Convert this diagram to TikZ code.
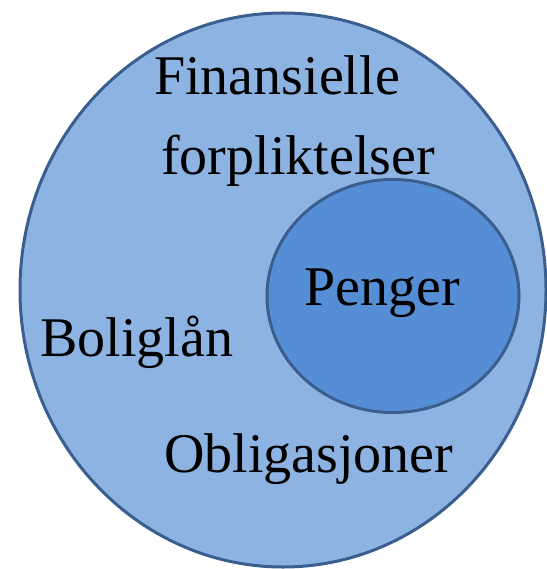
\documentclass[tikz,border=0pt]{standalone}
\usepackage{fontspec}
\setmainfont{Liberation Serif}
\usetikzlibrary{shapes.geometric}
\definecolor{ringline}{HTML}{3A5F8E}
\definecolor{outerfill}{HTML}{8DB3E2}
\definecolor{innerfill}{HTML}{558ED5}
\begin{document}
\begin{tikzpicture}[x=1pt, y=-1pt,
    setring/.style={ellipse, draw=ringline, line width=3pt, inner sep=0pt},
    setlabel/.style={anchor=base west, inner sep=0pt, font=\fontsize{56}{66}\selectfont}]
    \useasboundingbox (0,0) rectangle (546,569);
    % the two sets
    \node[setring, fill=outerfill, minimum width=526pt, minimum height=554pt] (finans) at (283,290) {};
    \node[setring, fill=innerfill, minimum width=252pt, minimum height=233pt] (penger) at (393,296) {};

    \node[setlabel] (finanslab1) at (154,95) {Finansielle};
    \node[setlabel] (finanslab2) at (161,175) {forpliktelser};
    \node[setlabel] (pengerlab) at (304,305) {Penger};
    \node[setlabel] (bolig) at (40,356) {Boliglån};
    \node[setlabel] (oblig) at (164,472) {Obligasjoner};
\end{tikzpicture}
\end{document}
